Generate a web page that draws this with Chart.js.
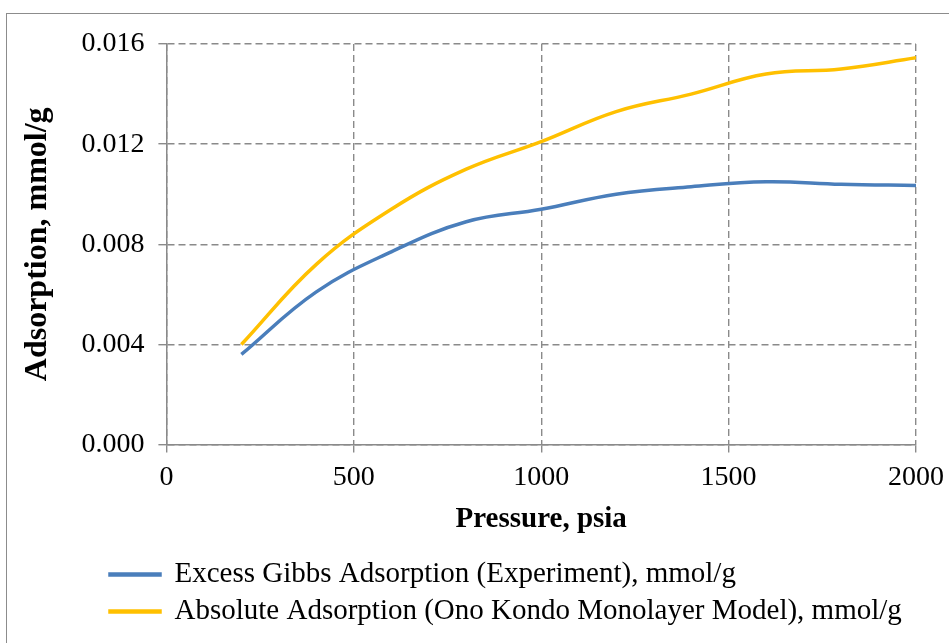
<!DOCTYPE html>
<html lang="en">
<head>
    <meta charset="UTF-8">
    <title>Adsorption vs Pressure</title>
    <script src="https://cdn.jsdelivr.net/npm/chart.js"></script>
    <style>
        html, body { margin: 0; padding: 0; background: #fff; overflow: hidden; }
        .wrap { position: relative; width: 949px; height: 643px; }
        /* chart frame: only the left and top edges fall inside the picture */
        .frame { position: absolute; left: 6px; top: 13px; width: 1000px; height: 700px;
                 border-left: 1px solid #8c8c8c; border-top: 1px solid #8c8c8c; }
        canvas { position: absolute; left: 0; top: 0; }
    </style>
</head>
<body>
    <div class="wrap">
        <div class="frame"></div>
        <canvas id="adsChart" width="949" height="643"></canvas>
    </div>

    <script>
        // Pressure (psia)
        const pressure = [200, 400, 600, 800, 1000, 1200, 1400, 1600, 1800, 2000];
        // Excess Gibbs adsorption, experiment (mmol/g)
        const excessGibbs = [0.0036, 0.0061, 0.0077, 0.0089, 0.0094, 0.0100, 0.0103, 0.0105, 0.0104, 0.01035];
        // Absolute adsorption, Ono Kondo monolayer model (mmol/g)
        const absoluteOK = [0.0040, 0.0072, 0.0094, 0.0110, 0.0121, 0.0133, 0.0140, 0.0148, 0.0150, 0.01545];

        const seriesNames = [
            'Excess Gibbs Adsorption (Experiment), mmol/g',
            'Absolute Adsorption (Ono Kondo Monolayer Model), mmol/g'
        ];
        const yTicks = [0, 0.004, 0.008, 0.012, 0.016];
        const xTicks = [0, 500, 1000, 1500, 2000];

        const serif = "'Liberation Serif', 'Times New Roman', serif";
        const gridGray = '#8a8a8a';

        const toPoints = (xs, ys) => xs.map((x, i) => ({ x: x, y: ys[i] }));

        // push the legend over so both rows start at the same left edge
        const legendShift = {
            id: 'legendShift',
            afterLayout(chart) {
                chart.legend.left = 102;
            }
        };

        const gridOpts = {
            color: gridGray,
            lineWidth: 1.4,
            tickLength: 8,
            tickColor: gridGray,
            tickBorderDash: []
        };
        const borderOpts = { color: gridGray, width: 1.5, dash: [7, 4] };

        const ctx = document.getElementById('adsChart').getContext('2d');
        new Chart(ctx, {
            type: 'line',
            data: {
                datasets: [{
                    label: seriesNames[0],
                    data: toPoints(pressure, excessGibbs),
                    borderColor: '#4a7ebb',
                    backgroundColor: '#4a7ebb',
                    borderWidth: 3.5,
                    pointRadius: 0,
                    tension: 0.4,
                    fill: false
                }, {
                    label: seriesNames[1],
                    data: toPoints(pressure, absoluteOK),
                    borderColor: '#ffc000',
                    backgroundColor: '#ffc000',
                    borderWidth: 3.5,
                    pointRadius: 0,
                    tension: 0.4,
                    fill: false
                }]
            },
            options: {
                responsive: false,
                animation: false,
                layout: { padding: { left: 10, top: 44, right: 33, bottom: 7 } },
                plugins: {
                    tooltip: { enabled: false },
                    legend: {
                        position: 'bottom',
                        align: 'start',
                        labels: {
                            color: '#000',
                            font: { family: serif, size: 29 },
                            boxWidth: 50,
                            boxHeight: 1,
                            padding: 8
                        }
                    }
                },
                scales: {
                    x: {
                        type: 'linear',
                        min: xTicks[0],
                        max: xTicks[xTicks.length - 1],
                        afterBuildTicks: axis => { axis.ticks = xTicks.map(v => ({ value: v })); },
                        // let the "2000" label hang into the right margin
                        afterFit: axis => { axis.paddingRight = 0; },
                        grid: gridOpts,
                        border: borderOpts,
                        ticks: {
                            color: '#000',
                            font: { family: serif, size: 28 },
                            padding: 8,
                            maxRotation: 0,
                            callback: v => String(v)
                        },
                        title: {
                            display: true,
                            text: 'Pressure, psia',
                            color: '#000',
                            font: { family: serif, size: 29, weight: 'bold' },
                            padding: { top: 0, bottom: 15 }
                        }
                    },
                    y: {
                        min: yTicks[0],
                        max: yTicks[yTicks.length - 1],
                        afterBuildTicks: axis => { axis.ticks = yTicks.map(v => ({ value: v })); },
                        grid: gridOpts,
                        border: borderOpts,
                        ticks: {
                            color: '#000',
                            font: { family: serif, size: 28 },
                            padding: 14,
                            callback: v => v.toFixed(3)
                        },
                        title: {
                            display: true,
                            text: 'Adsorption, mmol/g',
                            color: '#000',
                            font: { family: serif, size: 32, weight: 'bold' },
                            padding: { top: 9, bottom: 10 }
                        }
                    }
                }
            },
            plugins: [legendShift]
        });
    </script>
</body>
</html>
